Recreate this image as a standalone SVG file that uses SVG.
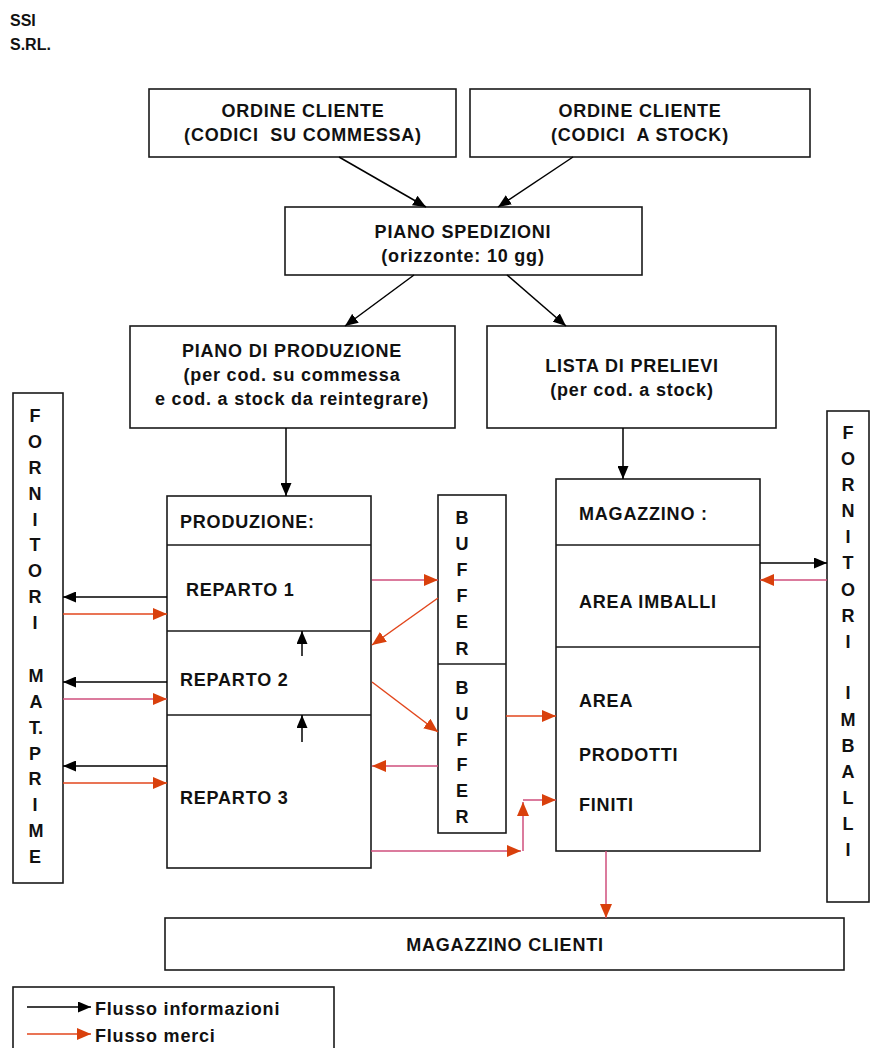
<svg xmlns="http://www.w3.org/2000/svg" width="871" height="1048" viewBox="0 0 871 1048">
<style>
.bx{fill:#fff;stroke:#1a1a1a;stroke-width:1.6}
.dv{stroke:#1a1a1a;stroke-width:1.6;fill:none}
.t{font-family:"Liberation Sans",Arial,sans-serif;font-weight:bold;font-size:18px;letter-spacing:0.8px;fill:#111;white-space:pre}
.c{text-anchor:middle}
.v{font-family:"Liberation Sans",Arial,sans-serif;font-weight:bold;font-size:18px;fill:#111;text-anchor:middle}
.k{stroke:#000;stroke-width:1.5;fill:none;marker-end:url(#ab)}
.o{stroke:#e2461c;stroke-width:1.5;fill:none;marker-end:url(#ar)}
.p{stroke:#cf4f7c;stroke-width:1.5;fill:none;marker-end:url(#ar)}
</style>
<defs>
<marker id="ab" markerUnits="userSpaceOnUse" viewBox="0 0 13 11" markerWidth="13" markerHeight="11" refX="13" refY="5.5" orient="auto"><path d="M0,0 L13,5.5 L0,11 z" fill="#000"/></marker>
<marker id="ar" markerUnits="userSpaceOnUse" viewBox="0 0 14 12" markerWidth="14" markerHeight="12" refX="14" refY="6" orient="auto"><path d="M0,0 L14,6 L0,12 z" fill="#d9400c"/></marker>
</defs>
<rect width="871" height="1048" fill="#fff"/>

<g id="header">
<text class="t" x="10" y="26" style="font-size:16px;letter-spacing:0">SSI</text>
<text class="t" x="10" y="50" style="font-size:16px;letter-spacing:0">S.RL.</text>
</g>

<g id="ordine-commessa">
<rect class="bx" x="149" y="89" width="307" height="68"/>
<text class="t c" x="303" y="117">ORDINE CLIENTE</text>
<text class="t c" x="303" y="141" xml:space="preserve">(CODICI  SU COMMESSA)</text>
</g>

<g id="ordine-stock">
<rect class="bx" x="470" y="89" width="340" height="68"/>
<text class="t c" x="640" y="117">ORDINE CLIENTE</text>
<text class="t c" x="640" y="141" xml:space="preserve">(CODICI  A STOCK)</text>
</g>

<g id="piano-spedizioni">
<rect class="bx" x="285" y="207" width="357" height="68"/>
<text class="t c" x="463" y="238">PIANO SPEDIZIONI</text>
<text class="t c" x="463" y="262">(orizzonte: 10 gg)</text>
</g>

<g id="piano-produzione">
<rect class="bx" x="130" y="326" width="325" height="102"/>
<text class="t c" x="292" y="357">PIANO DI PRODUZIONE</text>
<text class="t c" x="292" y="381">(per cod. su commessa</text>
<text class="t c" x="292" y="405">e cod. a stock da reintegrare)</text>
</g>

<g id="lista-prelievi">
<rect class="bx" x="487" y="326" width="289" height="102"/>
<text class="t c" x="632" y="372">LISTA DI PRELIEVI</text>
<text class="t c" x="632" y="396">(per cod. a stock)</text>
</g>

<g id="fornitori-mat-prime">
<rect class="bx" x="13" y="393" width="50" height="490"/>
<text class="v" x="35" y="422">F</text>
<text class="v" x="35" y="448">O</text>
<text class="v" x="35" y="474">R</text>
<text class="v" x="35" y="500">N</text>
<text class="v" x="35" y="526">I</text>
<text class="v" x="35" y="551">T</text>
<text class="v" x="35" y="577">O</text>
<text class="v" x="35" y="603">R</text>
<text class="v" x="35" y="629">I</text>
<text class="v" x="36" y="682">M</text>
<text class="v" x="36" y="708">A</text>
<text class="v" x="36" y="734">T.</text>
<text class="v" x="35" y="760">P</text>
<text class="v" x="35" y="785">R</text>
<text class="v" x="35" y="811">I</text>
<text class="v" x="36" y="837">M</text>
<text class="v" x="35" y="863">E</text>
</g>

<g id="produzione">
<rect class="bx" x="167" y="496" width="204" height="372"/>
<path class="dv" d="M167,545 H371 M167,631 H371 M167,715 H371"/>
<text class="t" x="180" y="528">PRODUZIONE:</text>
<text class="t" x="186" y="596">REPARTO 1</text>
<text class="t" x="180" y="686">REPARTO 2</text>
<text class="t" x="180" y="804">REPARTO 3</text>
</g>

<g id="buffer">
<rect class="bx" x="438" y="495" width="68" height="338"/>
<path class="dv" d="M438,664 H506"/>
<text class="v" x="462" y="524">B</text>
<text class="v" x="462" y="550">U</text>
<text class="v" x="462" y="576">F</text>
<text class="v" x="462" y="602">F</text>
<text class="v" x="462" y="628">E</text>
<text class="v" x="462" y="655">R</text>
<text class="v" x="462" y="694">B</text>
<text class="v" x="462" y="720">U</text>
<text class="v" x="462" y="746">F</text>
<text class="v" x="462" y="771">F</text>
<text class="v" x="462" y="797">E</text>
<text class="v" x="462" y="823">R</text>
</g>

<g id="magazzino">
<rect class="bx" x="556" y="479" width="204" height="372"/>
<path class="dv" d="M556,545 H760 M556,647 H760"/>
<text class="t" x="579" y="520">MAGAZZINO :</text>
<text class="t" x="579" y="608">AREA IMBALLI</text>
<text class="t" x="579" y="707">AREA</text>
<text class="t" x="579" y="761">PRODOTTI</text>
<text class="t" x="579" y="811">FINITI</text>
</g>

<g id="fornitori-imballi">
<rect class="bx" x="827" y="411" width="42" height="491"/>
<text class="v" x="848" y="439">F</text>
<text class="v" x="848" y="465">O</text>
<text class="v" x="848" y="491">R</text>
<text class="v" x="848" y="517">N</text>
<text class="v" x="848" y="543">I</text>
<text class="v" x="848" y="569">T</text>
<text class="v" x="848" y="596">O</text>
<text class="v" x="848" y="622">R</text>
<text class="v" x="848" y="648">I</text>
<text class="v" x="848" y="699">I</text>
<text class="v" x="848" y="726">M</text>
<text class="v" x="848" y="752">B</text>
<text class="v" x="848" y="778">A</text>
<text class="v" x="848" y="804">L</text>
<text class="v" x="848" y="830">L</text>
<text class="v" x="848" y="856">I</text>
</g>

<g id="magazzino-clienti">
<rect class="bx" x="165" y="918" width="679" height="52"/>
<text class="t c" x="505" y="951">MAGAZZINO CLIENTI</text>
</g>

<g id="legenda">
<rect class="bx" x="13" y="987" width="321" height="80"/>
<path class="k" d="M27,1007 H91"/>
<path class="o" d="M27,1034 H91"/>
<text class="t" x="95" y="1015">Flusso informazioni</text>
<text class="t" x="95" y="1042">Flusso merci</text>
</g>

<g id="connectors">
<path class="k" d="M339,157 L426,207"/>
<path class="k" d="M573,157 L498,207"/>
<path class="k" d="M414,275 L345,326"/>
<path class="k" d="M507,275 L566,326"/>
<path class="k" d="M286,428 V496"/>
<path class="k" d="M623,428 V479"/>
<path class="k" d="M167,597 H63"/>
<path class="k" d="M167,682 H63"/>
<path class="k" d="M167,766 H63"/>
<path class="o" d="M63,614 H167"/>
<path class="p" d="M63,699 H167"/>
<path class="o" d="M63,783 H167"/>
<path class="k" d="M302,656 V631"/>
<path class="k" d="M302,742 V715"/>
<path class="p" d="M372,580 H438"/>
<path class="o" d="M438,598 L372,645"/>
<path class="o" d="M372,682 L438,732"/>
<path class="p" d="M438,766 H372"/>
<path class="o" d="M506,716 H556"/>
<path class="p" d="M371,851 H521"/>
<path class="p" d="M523,851 V802"/>
<path class="p" d="M523,800 H556"/>
<path class="k" d="M760,563 H827"/>
<path class="p" d="M827,580 H760"/>
<path class="p" d="M606,851 V918"/>
</g>
</svg>
